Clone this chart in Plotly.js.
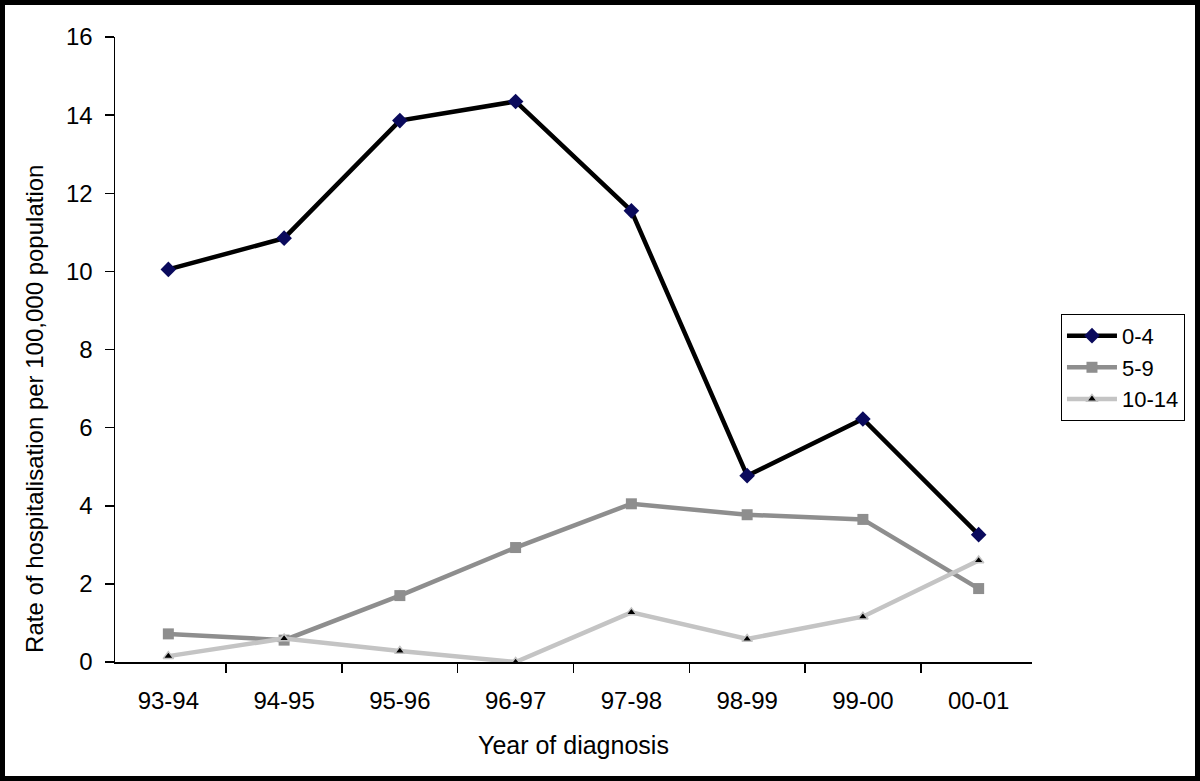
<!DOCTYPE html>
<html>
<head>
<meta charset="utf-8">
<script src="https://cdn.plot.ly/plotly-3.0.1.min.js"></script>
<style>
  body { margin: 0; background: white; }
  #wrap { position: relative; width: 1200px; height: 781px; }
  #chart { width: 1200px; height: 781px; }
  #frame { position: absolute; left: 0; top: 0; width: 1190px; height: 771px;
           border: 5px solid black; pointer-events: none; }
</style>
</head>
<body>
<div id="wrap">
  <div id="chart"></div>
  <div id="frame"></div>
</div>
<script>
// Hospitalisation rates by age group
var years   = ['93-94', '94-95', '95-96', '96-97', '97-98', '98-99', '99-00', '00-01'];
var age0to4   = [10.05, 10.85, 13.86, 14.35, 11.55, 4.77, 6.22, 3.26];
var age5to9   = [0.72, 0.56, 1.70, 2.93, 4.05, 3.77, 3.65, 1.88];
var age10to14 = [0.15, 0.60, 0.28, 0.00, 1.27, 0.59, 1.16, 2.60];
var yTicks  = [0, 2, 4, 6, 8, 10, 12, 14, 16];

var FONT = 'Arial, "Liberation Sans", sans-serif';

var traces = [
  { x: years, y: age0to4, name: '0-4', mode: 'lines+markers', legendgroup: 'a',
    line: {color: '#000000', width: 4.5},
    marker: {symbol: 'diamond', color: '#0a0a5c', size: 12} },
  { x: years, y: age5to9, name: '5-9', mode: 'lines+markers', legendgroup: 'b',
    line: {color: '#8e8e8e', width: 4.5},
    marker: {symbol: 'square', color: '#8e8e8e', size: 11} },
  { x: years, y: age10to14, name: '10-14', mode: 'lines+markers', legendgroup: 'c',
    line: {color: '#c4c4c4', width: 4.5},
    marker: {symbol: 'triangle-up', color: '#000000', size: 9,
             line: {color: '#c4c4c4', width: 1.5}} }
];

var layout = {
  width: 1200, height: 781,
  margin: {l: 115, r: 168, t: 37, b: 119},
  plot_bgcolor: 'white', paper_bgcolor: 'white',
  font: {family: FONT, color: '#000', size: 24},
  xaxis: {
    type: 'category', tickson: 'boundaries',
    ticks: 'outside', ticklen: 9, tickwidth: 1.5, tickcolor: '#000',
    showline: true, linecolor: '#000', linewidth: 1.5,
    showgrid: false, zeroline: false,
    tickfont: {size: 24}, ticklabelstandoff: 17
  },
  yaxis: {
    range: [0, 16], tickvals: yTicks,
    ticks: 'outside', ticklen: 9, tickwidth: 1.5, tickcolor: '#000',
    showline: true, linecolor: '#000', linewidth: 1.5,
    showgrid: false, zeroline: false,
    tickfont: {size: 24}, ticklabelstandoff: 7
  },
  showlegend: true,
  legend: {
    x: 1.0316, y: 0.557, xanchor: 'left', yanchor: 'top',
    bordercolor: '#000', borderwidth: 1,
    font: {size: 22}, traceorder: 'grouped', tracegroupgap: 0,
    itemwidth: 50
  },
  annotations: [
    { text: 'Rate of hospitalisation per 100,000 population',
      xref: 'paper', yref: 'paper', x: -0.0872, y: 0.405,
      xanchor: 'center', yanchor: 'middle', textangle: -90,
      showarrow: false, font: {size: 24} },
    { text: 'Year of diagnosis',
      xref: 'paper', yref: 'paper', x: 0.5, y: -0.133,
      xanchor: 'center', yanchor: 'middle',
      showarrow: false, font: {size: 25} }
  ]
};

Plotly.newPlot('chart', traces, layout, {displayModeBar: false, staticPlot: true});
</script>
</body>
</html>
